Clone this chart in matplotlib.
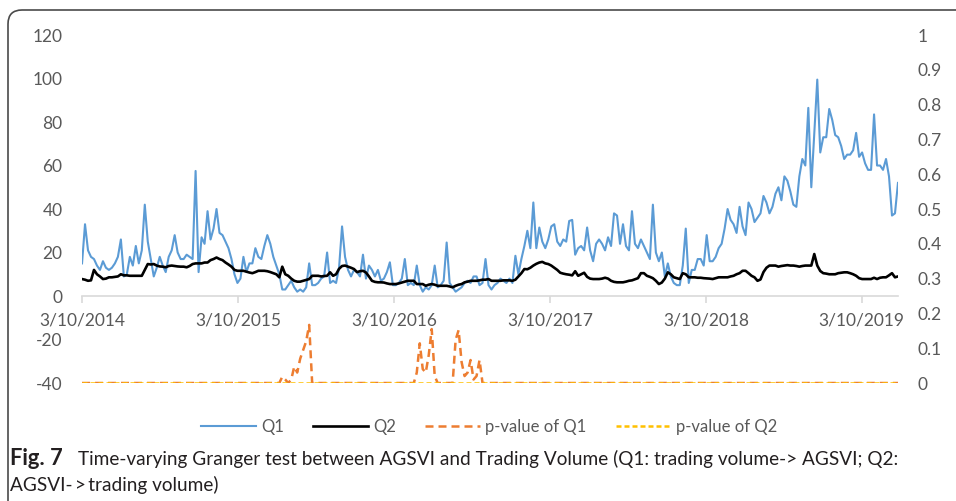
import numpy as np
import pandas as pd
import matplotlib
matplotlib.use("Agg")
import matplotlib.pyplot as plt
from matplotlib.patches import FancyBboxPatch

plt.rcParams['font.family'] = ['Lato', 'DejaVu Sans']
plt.rcParams['axes.unicode_minus'] = False

# weekly readings, first week = 3/10/2014
q1 = [15, 33, 21, 18, 17, 14, 12, 16, 13, 12,
      13, 15, 18, 26, 9, 10, 18, 14, 23, 15,
      21, 42, 25, 17, 9, 13, 18, 14, 11, 18,
      21, 28, 20, 17, 17, 19, 18, 17, 57.5, 11,
      27, 24, 39, 26, 31, 40, 29, 28, 25, 22,
      17, 10, 6, 8, 18, 11, 15, 15, 22, 18,
      17, 23, 28, 24, 18, 14, 10, 3, 3, 5,
      7, 4, 2, 3, 2, 4, 15, 5, 5, 6,
      8, 9, 20, 6, 7, 6, 13, 32, 18, 12,
      9, 12, 11, 9, 19, 8, 14, 12, 9, 12,
      7, 8, 11, 15.5, 5, 5, 6, 8, 17, 5,
      6, 5, 14, 5, 2, 4, 3, 5, 14, 4,
      5, 7, 24.6, 6, 4, 2, 3, 4, 6, 7,
      6, 9, 9, 5, 6, 17, 5,
      3, 5, 6, 8, 7, 6, 8, 6, 18.5, 10,
      17, 23, 30, 22, 43, 22, 31.5, 25, 22, 26,
      32, 33, 25, 23, 26, 25, 34.5, 35, 19, 22,
      23, 21, 31.5, 21, 16, 24, 26, 24, 21, 27,
      23, 38, 37, 24, 33, 23, 21, 39, 24, 22,
      26, 23, 20, 17, 42, 20, 16, 20, 9, 15,
      9, 6, 5, 5, 14, 31, 6,
      12, 12, 17, 17, 14, 28, 16, 16, 18, 22,
      24, 31, 40, 35, 33, 29, 41, 32, 28, 43,
      40, 34, 36, 38, 46, 43, 38, 41, 47, 50,
      44, 55, 53, 48, 42, 41, 55, 63, 60, 86.5,
      50, 75, 99.5, 66, 73, 73, 86, 81, 74, 73,
      69, 63, 65, 65, 67, 75, 64, 66, 61, 58,
      58, 83.5, 60, 60, 58, 63, 55, 37, 38, 52]

q2 = [7.8, 7.5, 7, 7.2, 12, 10, 9, 7.8, 8, 8.6,
      8.6, 8.8, 9, 10, 9.5, 9.5, 9.3, 9.3, 9.3, 9.3,
      9.3, 12, 14.7, 14.5, 14.7, 14, 13.6, 13.5, 13.2, 13.8,
      14, 13.8, 13.6, 13.5, 13.5, 13.2, 13.8, 14.7, 15, 15,
      15, 15.4, 15.4, 16.5, 17, 17.7, 17, 16.5, 15.4, 14.5,
      13.5, 12, 11.6, 11.6, 11.6, 11.2, 10.8, 10.5, 11, 11.6,
      11.6, 11.6, 11.4, 11, 10.5, 10, 8.6, 13.5, 10, 9.3,
      8, 7, 6.6, 6.6, 7, 7.4, 7.8, 9.3, 9.3, 9.3,
      9, 9.2, 9.3, 10.9, 9.3, 10, 12.5, 13.8, 14, 13.5,
      13, 12.4, 11, 11.4, 11.6, 10.8, 9, 7, 6.5, 6.3,
      6.3, 6.2, 5.8, 5.5, 5.5, 5.5, 5.8, 6.2, 6.6, 7,
      7, 7, 5.5, 5.5, 5.5, 4.7, 5.2, 5.5, 5.2, 4.7,
      4.7, 4.7, 4.7, 4.4, 4, 4.7, 5.2, 5.5, 6.3, 6.6,
      7, 7, 7, 7.2, 7.5, 7.5, 7.8,
      7, 7, 7, 7, 7.2, 7.2, 7.2, 7, 7.5, 9,
      10.5, 12.4, 12.3, 13, 14, 14.8, 15.4, 15.7, 15, 14.7,
      14, 13, 12, 10.7, 10.3, 10, 9.8, 9.5, 11.4, 9.3,
      10, 10.7, 8.8, 8, 7.8, 7.8, 7.8, 8, 8.4, 8,
      7, 6.5, 6.3, 6.3, 6.3, 6.6, 7, 7.2, 7.7, 8.2,
      10.5, 10.5, 9.3, 8.8, 8.2, 7, 5.5, 6.2, 8, 10.9,
      10, 8.6, 8.2, 7.8, 10.5, 10, 8.6,
      8.6, 8.6, 8.4, 8.4, 8.2, 8.1, 8, 7.8, 8.2, 8.6,
      8.6, 8.6, 8.6, 9, 9.3, 10, 10.5, 11.6, 11.6, 10.5,
      9.3, 8.6, 7, 7.6, 11, 13, 14, 14, 14, 13.5,
      13.8, 14, 14.2, 14, 14, 13.8, 13.5, 13.8, 14, 14,
      14, 19.3, 14, 11.5, 10.5, 10.3, 10, 10, 10, 10.5,
      10.7, 10.9, 10.9, 10.5, 10, 9.3, 8.2, 7.8, 7.8, 7.8,
      7.8, 8.4, 7.8, 8.4, 8.6, 8.6, 9.5, 10.5, 8.6, 9]

# p-value of Q1 is 0 except these weeks; p-value of Q2 stays at 0
pq1_weeks = [67, 68, 70, 71, 72, 73, 74, 75, 76,
             112, 113, 114, 115, 116, 117, 118,
             125, 126, 127, 128, 129, 130, 131, 132, 133]
pq1_vals = [0.018, 0.01, 0.01, 0.047, 0.03, 0.07, 0.095, 0.12, 0.167,
            0.03, 0.114, 0.04, 0.03, 0.08, 0.155, 0.02,
            0.124, 0.152, 0.06, 0.02, 0.03, 0.066, 0.01, 0.02, 0.066]

year_ticks = ['2014-03-10', '2015-03-10', '2016-03-10', '2017-03-10', '2018-03-10', '2019-03-10']
year_labels = ['3/10/2014', '3/10/2015', '3/10/2016', '3/10/2017', '3/10/2018', '3/10/2019']
left_ticks = [120, 100, 80, 60, 40, 20, 0, -20, -40]
right_ticks = [1, 0.9, 0.8, 0.7, 0.6, 0.5, 0.4, 0.3, 0.2, 0.1, 0]
right_labels = ['1', '0.9', '0.8', '0.7', '0.6', '0.5', '0.4', '0.3', '0.2', '0.1', '0']

weeks = pd.date_range('2014-03-10', periods=len(q1), freq='7D')
p_q1 = np.zeros(len(weeks))
p_q1[pq1_weeks] = pq1_vals
p_q2 = np.zeros(len(weeks))

grey = '#595959'
fig = plt.figure(figsize=(9.56, 5.01), dpi=100)
ax = fig.add_axes([0.0858, 0.2355, 0.8535, 0.6946])
ax2 = ax.twinx()

l1, = ax.plot(weeks, q1, color='#5B9BD5', lw=1.5, label='Q1')
l2, = ax.plot(weeks, q2, color='black', lw=1.9, label='Q2')
l3, = ax2.plot(weeks, p_q1, color='#ED7D31', lw=1.8, dashes=(3.2, 2), label='p-value of Q1')
l4, = ax2.plot(weeks, p_q2, color='#FFC000', lw=1.8, dashes=(2, 1.2), label='p-value of Q2')

ax.set_xlim(weeks[0], weeks[-1])
ax.set_ylim(-40, 120)
ax2.set_ylim(0, 1)

ax.set_xticks(pd.to_datetime(year_ticks))
ax.set_xticklabels(year_labels)
ax.set_yticks(left_ticks)
ax2.set_yticks(right_ticks)
ax2.set_yticklabels(right_labels)

for s in ['left', 'right', 'top']:
    ax.spines[s].set_visible(False)
for s in ax2.spines.values():
    s.set_visible(False)
ax.spines['bottom'].set_position(('data', 0))
ax.spines['bottom'].set_color('#D9D9D9')
ax.spines['bottom'].set_linewidth(1.2)

ax.tick_params(axis='x', length=5, width=1.2, color='#D9D9D9', pad=7, labelsize=12.5, labelcolor=grey)
ax.tick_params(axis='y', length=0, pad=14, labelsize=12.5, labelcolor=grey)
ax2.tick_params(axis='y', length=0, pad=14, labelsize=12.5, labelcolor=grey)

fig.legend([l1, l2, l3, l4], ['Q1', 'Q2', 'p-value of Q1', 'p-value of Q2'],
           loc='center', bbox_to_anchor=(489 / 956, 1 - 427 / 501), ncol=4, frameon=False,
           handlelength=3.3, handletextpad=0.3, columnspacing=1.75, fontsize=12, labelcolor=grey)

# frame round the figure, cut at right and bottom
frame = FancyBboxPatch((8, -30), 990, 521, boxstyle='round,pad=0,rounding_size=14',
                       transform=None, fill=False, edgecolor='#4a4a4a', lw=1.2)
fig.add_artist(frame)

# caption, sized to the width in the reference
r = fig.canvas.get_renderer()
cap_col = '#231F20'
cap1 = fig.text(78 / 956, 1 - 465 / 501,
                'Time-varying Granger test between AGSVI and Trading Volume (Q1: trading volume-> AGSVI; Q2:',
                fontsize=14, color=cap_col, va='baseline')
size = 14 * 825 / cap1.get_window_extent(r).width
cap1.set_fontsize(size)
fig.text(10 / 956, 1 - 465 / 501, 'Fig. 7', fontsize=size * 1.15, fontweight='bold',
         color=cap_col, va='baseline')
fig.text(10 / 956, 1 - 491 / 501, 'AGSVI-\u2009>\u2009trading volume)', fontsize=size,
         color=cap_col, va='baseline')

fig.savefig('out.png', dpi=100)
